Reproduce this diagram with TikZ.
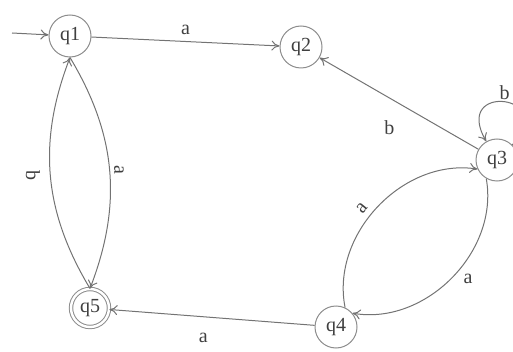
\documentclass[tikz,border=0pt]{standalone}
\usepackage{fontspec}
\setmainfont{Liberation Serif}
\usetikzlibrary{arrows.meta,positioning}

\begin{document}
\begin{tikzpicture}[x=0.5pt,y=0.5pt,
    >={To[length=4pt,width=5pt]},
    stnode/.style={circle, draw=black!45, line width=0.5pt, minimum size=21pt, inner sep=0pt, text=black!75},
    trans/.style={->, draw=black!55, line width=0.5pt},
    lbl/.style={text=black!75, inner sep=3pt}]
    \useasboundingbox (0,0) rectangle (513,-352);

    % States
    \node[stnode] (q1) at (70,-36) {q1};
    \node[stnode] (q2) at (301,-47) {q2};
    \node[stnode] (q3) at (497,-160) {q3};
    \node[stnode] (q4) at (336,-327) {q4};
    \node[stnode, double, double distance=1.2pt, minimum size=19pt] (q5) at (90,-308) {q5};
    \coordinate (start) at (12,-33);

    % Start arrow
    \draw[trans] (start) -- (q1);

    % Straight transitions
    \draw[trans] (q1) -- node[lbl, above] {a} (q2);
    \draw[trans] (q3) -- node[lbl, auto, pos=0.45, inner sep=6pt] {b} (q2);
    \draw[trans] (q4) -- node[lbl, auto, pos=0.45, inner sep=7pt] {a} (q5);

    % Loop on q3
    \draw[trans] (q3) to[out=45, in=120, looseness=1, min distance=35pt] node[lbl, above, inner sep=1pt] {b} (q3);

    % Arcs between q3 and q4
    \draw[trans] (q4.65) to[bend left=55] node[lbl, auto, sloped, pos=0.45] {a} (q3.205);
    \draw[trans] (q3.240) to[bend left=55] node[lbl, auto, pos=0.45, inner sep=2pt] {a} (q4.40);

    % Arcs between q1 and q5
    \draw[trans] (q5.north) to[bend left=26] node[lbl, rotate=-90, anchor=north, inner sep=5pt] {b} (q1.south);
    \draw[trans] (q1.south) to[bend left=26] node[lbl, rotate=-90, anchor=south, inner sep=2pt] {a} (q5.north);
\end{tikzpicture}
\end{document}
